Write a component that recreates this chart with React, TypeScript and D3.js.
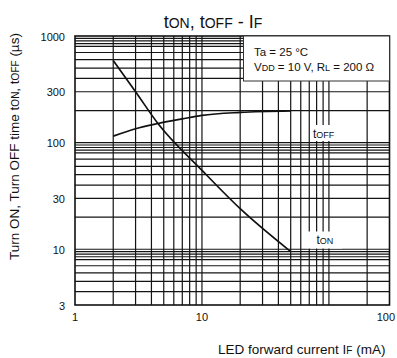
import { useEffect, useRef } from 'react';
import * as d3 from 'd3';

// I_F (mA) and switching times (µs)
const tOnCurrent = [2, 3, 4.5, 10, 20, 50];
const tOnTime = [590, 300, 151, 55, 24, 9.5];
const tOffCurrent = [2, 3, 4.5, 7, 10, 20, 50];
const tOffTime = [115, 135, 151, 167, 180, 192, 198];

const xGridValues = [2, 3, 4, 5, 6, 7, 8, 9, 10, 20, 30, 40, 50, 60, 70, 80, 90, 100, 200];
const yGridValues = [
  950, 900, 850, 800, 700, 600, 500, 400, 300, 200, 100,
  95, 90, 85, 80, 70, 60, 50, 40, 30, 20, 10,
  9.5, 9, 8.5, 8, 7, 6, 5, 4,
];
const xTickValues = [1, 10, 300];
const xTickLabels = ['1', '10', '100'];
const yTickValues = [1000, 300, 100, 30, 10, 3];
const yTickLabels = ['1000', '300', '100', '30', '10', '3'];

const FONT = '"Liberation Sans", Arial, Helvetica, sans-serif';

// segments: [text, small?]
function richText(g, parts, big, small) {
  const t = g.append('text').attr('font-family', FONT).attr('fill', '#111');
  parts.forEach(([s, isSmall]) => {
    t.append('tspan')
      .attr('font-size', isSmall ? small : big)
      .text(s);
  });
  return t;
}

function Chart() {
  const ref = useRef(null);

  useEffect(() => {
    const w = 397;
    const h = 358;
    const left = 75;
    const right = 389.5;
    const top = 36;
    const bottom = 305;

    const svg = d3.select(ref.current).attr('width', w).attr('height', h);
    svg.selectAll('*').remove();

    svg.append('rect').attr('width', w).attr('height', h).attr('fill', '#fff');

    const x = d3.scaleLog().domain([1, 300]).range([left, right]);
    const y = d3.scaleLog().domain([3, 1000]).range([bottom, top]);

    const grid = svg.append('g').attr('stroke', '#141414').attr('stroke-width', 1.2);

    grid
      .selectAll('line.v')
      .data(xGridValues)
      .join('line')
      .attr('class', 'v')
      .attr('x1', d => x(d))
      .attr('x2', d => x(d))
      .attr('y1', top)
      .attr('y2', bottom);

    grid
      .selectAll('line.h')
      .data(yGridValues)
      .join('line')
      .attr('class', 'h')
      .attr('x1', left)
      .attr('x2', right)
      .attr('y1', d => y(d))
      .attr('y2', d => y(d));

    svg
      .append('rect')
      .attr('x', left)
      .attr('y', top)
      .attr('width', right - left)
      .attr('height', bottom - top)
      .attr('fill', 'none')
      .attr('stroke', '#111')
      .attr('stroke-width', 1.6);

    // condition box
    svg
      .append('rect')
      .attr('x', 243.5)
      .attr('y', top)
      .attr('width', right - 243.5)
      .attr('height', 45)
      .attr('fill', '#fff')
      .attr('stroke', '#333')
      .attr('stroke-width', 1);

    const cond = svg.append('g');
    richText(cond, [['Ta = 25 °C', false]], 11.5, 9).attr('x', 254).attr('y', 55.5);
    richText(
      cond,
      [['V', false], ['DD', true], [' = 10 V, R', false], ['L', true], [' = 200 Ω', false]],
      11.5,
      9
    )
      .attr('x', 254)
      .attr('y', 70.5);

    const line = d3
      .line()
      .x(d => x(d[0]))
      .y(d => y(d[1]))
      .curve(d3.curveMonotoneX);

    svg
      .append('path')
      .datum(tOnCurrent.map((c, i) => [c, tOnTime[i]]))
      .attr('d', line)
      .attr('fill', 'none')
      .attr('stroke', '#111')
      .attr('stroke-width', 1.7);

    svg
      .append('path')
      .datum(tOffCurrent.map((c, i) => [c, tOffTime[i]]))
      .attr('d', line)
      .attr('fill', 'none')
      .attr('stroke', '#111')
      .attr('stroke-width', 1.7);

    // curve labels on white patches
    svg.append('rect').attr('x', 310).attr('y', 125).attr('width', 28).attr('height', 16).attr('fill', '#fff');
    richText(svg, [['t', false], ['OFF', true]], 12, 9).attr('x', 313).attr('y', 137.5);

    svg.append('rect').attr('x', 307).attr('y', 231.5).attr('width', 35).attr('height', 17).attr('fill', '#fff');
    richText(svg, [['t', false], ['ON', true]], 12, 9).attr('x', 316.5).attr('y', 244);

    // tick labels
    svg
      .append('g')
      .selectAll('text')
      .data(yTickValues)
      .join('text')
      .attr('x', 65)
      .attr('y', d => y(d) + 4.5)
      .attr('text-anchor', 'end')
      .attr('font-family', FONT)
      .attr('font-size', 11)
      .attr('fill', '#111')
      .text((d, i) => yTickLabels[i]);

    const last = xTickValues.length - 1;
    svg
      .append('g')
      .selectAll('text')
      .data(xTickValues)
      .join('text')
      .attr('x', (d, i) => (i === last ? w - 2 : x(d)))
      .attr('y', 320.5)
      .attr('text-anchor', (d, i) => (i === last ? 'end' : 'middle'))
      .attr('font-family', FONT)
      .attr('font-size', 11)
      .attr('fill', '#111')
      .text((d, i) => xTickLabels[i]);

    // title
    richText(
      svg,
      [['t', false], ['ON', true], [', t', false], ['OFF', true], [' - I', false], ['F', true]],
      18,
      14
    )
      .attr('x', 213)
      .attr('y', 27.5)
      .attr('text-anchor', 'middle');

    // axis titles
    richText(
      svg,
      [['Turn ON, Turn OFF time t', false], ['ON', true], [', t', false], ['OFF', true], [' (µs)', false]],
      13.5,
      10
    )
      .attr('text-anchor', 'middle')
      .attr('transform', 'translate(19,146.5) rotate(-90)');

    richText(svg, [['LED forward current I', false], ['F', true], [' (mA)', false]], 13.5, 10)
      .attr('x', 218)
      .attr('y', 354);

    return () => svg.selectAll('*').remove();
  }, []);

  return (
    <svg
      ref={ref}
      role="img"
      aria-label="tON, tOFF vs IF"
      style={{ position: 'absolute', left: 0, top: 0, display: 'block' }}
    />
  );
}

export default function App() {
  return <Chart />;
}
